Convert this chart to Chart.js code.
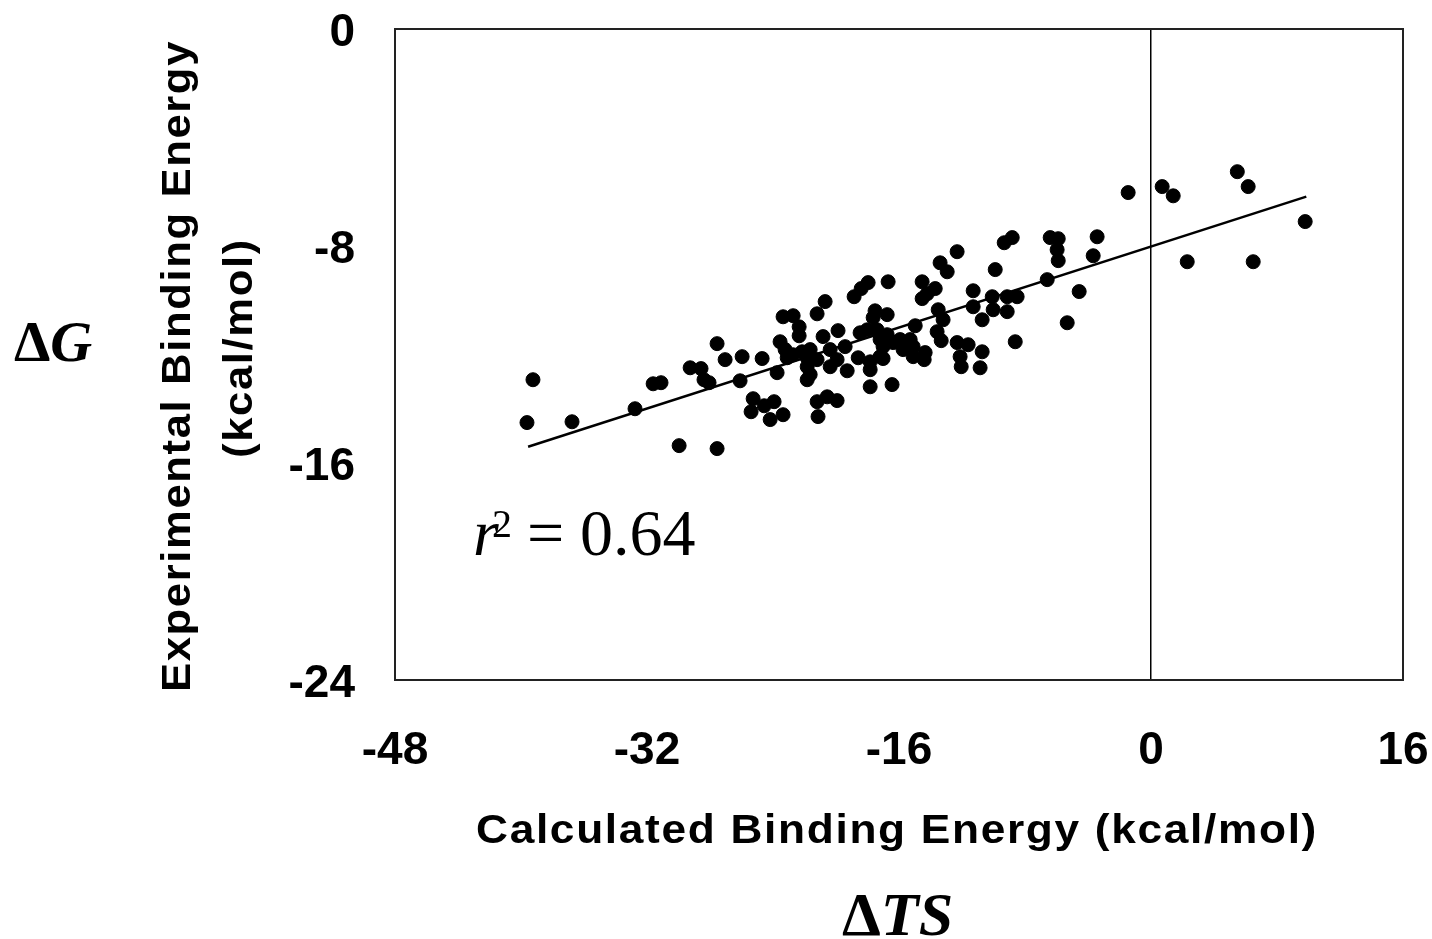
<!DOCTYPE html>
<html>
<head>
<meta charset="utf-8">
<script src="https://cdn.jsdelivr.net/npm/chart.js@4.4.0/dist/chart.umd.min.js"></script>
<style>
  body { margin: 0; background: #fff; }
  canvas { display: block; }
</style>
</head>
<body>
<canvas id="chartData" width="1432" height="939"></canvas>
<script>
// calculated binding energy (x) vs experimental binding energy (y), kcal/mol
const calcEnergy = [
  -39.62,-39.24,-36.76,-32.76,-31.61,-31.11,-29.96,-27.55,-27.55,-27.04,
  -25.96,-29.26,-28.57,-28.38,-28.06,-26.09,-25.39,-25.26,-24.69,-23.74,
  -24.56,-23.93,-24.18,-23.36,-21.20,-20.56,-19.93,-21.14,-20.69,-21.20,
  -23.36,-22.72,-22.34,-22.34,-23.55,-23.23,-23.10,-22.72,-22.15,-21.83,
  -21.64,-21.20,-21.83,-21.64,-21.83,-20.82,-19.87,-19.42,-20.37,-20.37,
  -19.93,-19.29,-18.59,-17.83,-17.01,-17.83,-17.83,-16.44,-18.85,-18.40,
  -17.96,-16.69,-18.02,-18.47,-17.52,-16.75,-17.64,-17.39,-17.20,-16.75,
  -17.01,-16.37,-17.20,-15.93,-15.29,-15.74,-15.10,-15.10,-14.34,-14.40,
  -14.97,-14.53,-13.70,-14.53,-14.21,-13.51,-13.20,-13.58,-13.32,-12.31,
  -11.61,-12.12,-12.05,-10.72,-10.85,-12.31,-13.39,-12.94,-9.89,-11.29,
  -10.08,-10.02,-10.72,-11.29,-9.32,-8.81,-6.40,-5.89,-5.96,-5.89,
  -3.42,-3.67,-6.59,-4.56,-5.32,-8.62,-9.13,-8.50,-9.13,-1.45,
  0.71,1.41,5.48,6.17,9.79,2.30,6.49
]
const expEnergy = [
  -14.51,-12.93,-14.48,-14.00,-13.08,-13.04,-15.36,-15.47,-11.60,-12.19,
  -12.08,-12.49,-12.52,-12.93,-13.04,-12.97,-14.11,-13.63,-12.15,-12.67,
  -13.89,-13.74,-14.40,-14.22,-13.74,-13.56,-13.70,-14.29,-10.05,-10.50,
  -10.61,-10.57,-10.98,-11.31,-11.53,-11.82,-12.12,-12.01,-11.90,-12.12,
  -11.82,-12.19,-12.45,-12.74,-12.93,-11.34,-11.12,-11.71,-11.82,-12.45,
  -12.19,-12.60,-12.12,-12.27,-12.15,-12.56,-13.19,-13.11,-9.87,-9.57,
  -9.35,-9.32,-11.09,-11.20,-10.39,-10.53,-10.64,-11.09,-11.45,-11.27,
  -11.71,-11.56,-12.08,-11.45,-11.45,-11.82,-11.71,-12.08,-11.93,-12.19,
  -10.94,-9.32,-9.57,-9.94,-9.76,-10.35,-10.72,-11.16,-11.49,-11.56,
  -11.64,-12.08,-12.45,-11.90,-12.49,-8.21,-8.62,-8.95,-8.87,-9.65,
  -9.87,-10.35,-10.72,-10.24,-7.88,-7.69,-7.69,-7.73,-8.14,-8.54,
  -7.66,-8.36,-9.24,-9.68,-10.83,-11.53,-9.87,-9.87,-10.42,-6.03,
  -5.81,-6.15,-5.26,-5.81,-7.10,-8.58,-8.58
]

// fitted line end points
const fitX = [-39.55, 9.86]
const fitY = [-15.40, -6.18]

const xTicks = [-48, -32, -16, 0, 16]
const yTicks = [0, -8, -16, -24]

const xTitle = 'Calculated Binding Energy (kcal/mol)'
const yTitle = ['Experimental Binding Energy', '(kcal/mol)']
const r2Text = '0.64'

const puntos = calcEnergy.map((x, i) => ({ x: x, y: expEnergy[i] }))
const linea = fitX.map((x, i) => ({ x: x, y: fitY[i] }))

// draws text stretched to a given width
function textoAncho(ctx, txt, cx, cy, ancho, rot) {
  const w = ctx.measureText(txt).width
  ctx.save()
  ctx.translate(cx, cy)
  if (rot) ctx.rotate(rot)
  ctx.scale(ancho / w, 1)
  ctx.textAlign = 'center'
  ctx.fillText(txt, 0, 0)
  ctx.restore()
}

// frame + free texts
const textos = {
  id: 'textos',
  afterDraw(chart) {
    const ctx = chart.ctx
    const a = chart.chartArea
    ctx.save()
    ctx.strokeStyle = '#222'
    ctx.lineWidth = 2
    ctx.strokeRect(a.left, a.top, a.right - a.left, a.bottom - a.top)

    ctx.fillStyle = '#000'
    ctx.textBaseline = 'alphabetic'
    ctx.font = 'bold 40px "Liberation Sans", Arial, sans-serif'
    ctx.letterSpacing = '1.5px'
    textoAncho(ctx, xTitle, 897, 843, 842, 0)
    textoAncho(ctx, yTitle[0], 190, 366, 652, -Math.PI / 2)
    textoAncho(ctx, yTitle[1], 252, 348, 220, -Math.PI / 2)
    ctx.letterSpacing = '0px'

    // delta G
    ctx.textAlign = 'left'
    ctx.font = 'bold 58px "Liberation Serif", "Times New Roman", serif'
    ctx.fillText('\u0394', 14, 361)
    let w = ctx.measureText('\u0394').width
    ctx.font = 'italic bold 58px "Liberation Serif", "Times New Roman", serif'
    ctx.fillText('G', 14 + w, 361)

    // delta TS
    ctx.font = 'bold 62px "Liberation Serif", "Times New Roman", serif'
    ctx.fillText('\u0394', 842, 935)
    w = ctx.measureText('\u0394').width
    ctx.font = 'italic bold 62px "Liberation Serif", "Times New Roman", serif'
    ctx.fillText('TS', 842 + w, 935)

    // r^2 = 0.64
    ctx.font = 'italic 66px "Liberation Serif", "Times New Roman", serif'
    ctx.fillText('r', 473, 555)
    ctx.font = '40px "Liberation Serif", "Times New Roman", serif'
    ctx.fillText('2', 492, 537)
    ctx.font = '66px "Liberation Serif", "Times New Roman", serif'
    ctx.fillText('=', 527, 555)
    ctx.fillText(r2Text, 580, 555)
    ctx.restore()
  }
}

const tickFont = { family: '"Liberation Sans", Arial, sans-serif', size: 46, weight: 'bold' }

new Chart(document.getElementById('chartData'), {
  type: 'scatter',
  data: {
    datasets: [{
      label: 'datos',
      data: puntos,
      pointRadius: 7,
      pointBorderWidth: 1,
      pointBackgroundColor: '#000',
      pointBorderColor: '#000',
      pointHoverRadius: 7
    }, {
      type: 'line',
      label: 'ajuste',
      data: linea,
      borderColor: '#000',
      borderWidth: 2.5,
      pointRadius: 0,
      fill: false
    }]
  },
  options: {
    responsive: false,
    animation: false,
    layout: { padding: { left: 0, top: 29, right: 29, bottom: 0 } },
    plugins: { legend: { display: false }, tooltip: { enabled: false } },
    scales: {
      x: {
        type: 'linear',
        min: -48,
        max: 16,
        afterFit: (s) => { s.height = 259; s.paddingLeft = 0; s.paddingRight = 0 },
        afterBuildTicks: (s) => { s.ticks = xTicks.map(v => ({ value: v })) },
        grid: {
          drawTicks: false,
          color: (c) => c.tick && c.tick.value === 0 ? '#000' : 'rgba(0,0,0,0)',
          lineWidth: 1.5
        },
        border: { display: false },
        ticks: { font: tickFont, color: '#000', padding: 44, maxRotation: 0 }
      },
      y: {
        type: 'linear',
        min: -24,
        max: 0,
        afterFit: (s) => { s.width = 395; s.paddingTop = 0; s.paddingBottom = 0 },
        afterBuildTicks: (s) => { s.ticks = yTicks.map(v => ({ value: v })) },
        grid: { display: false, drawTicks: false },
        border: { display: false },
        ticks: { font: tickFont, color: '#000', padding: 40, labelOffset: 4 }
      }
    }
  },
  plugins: [textos]
})
</script>
</body>
</html>
